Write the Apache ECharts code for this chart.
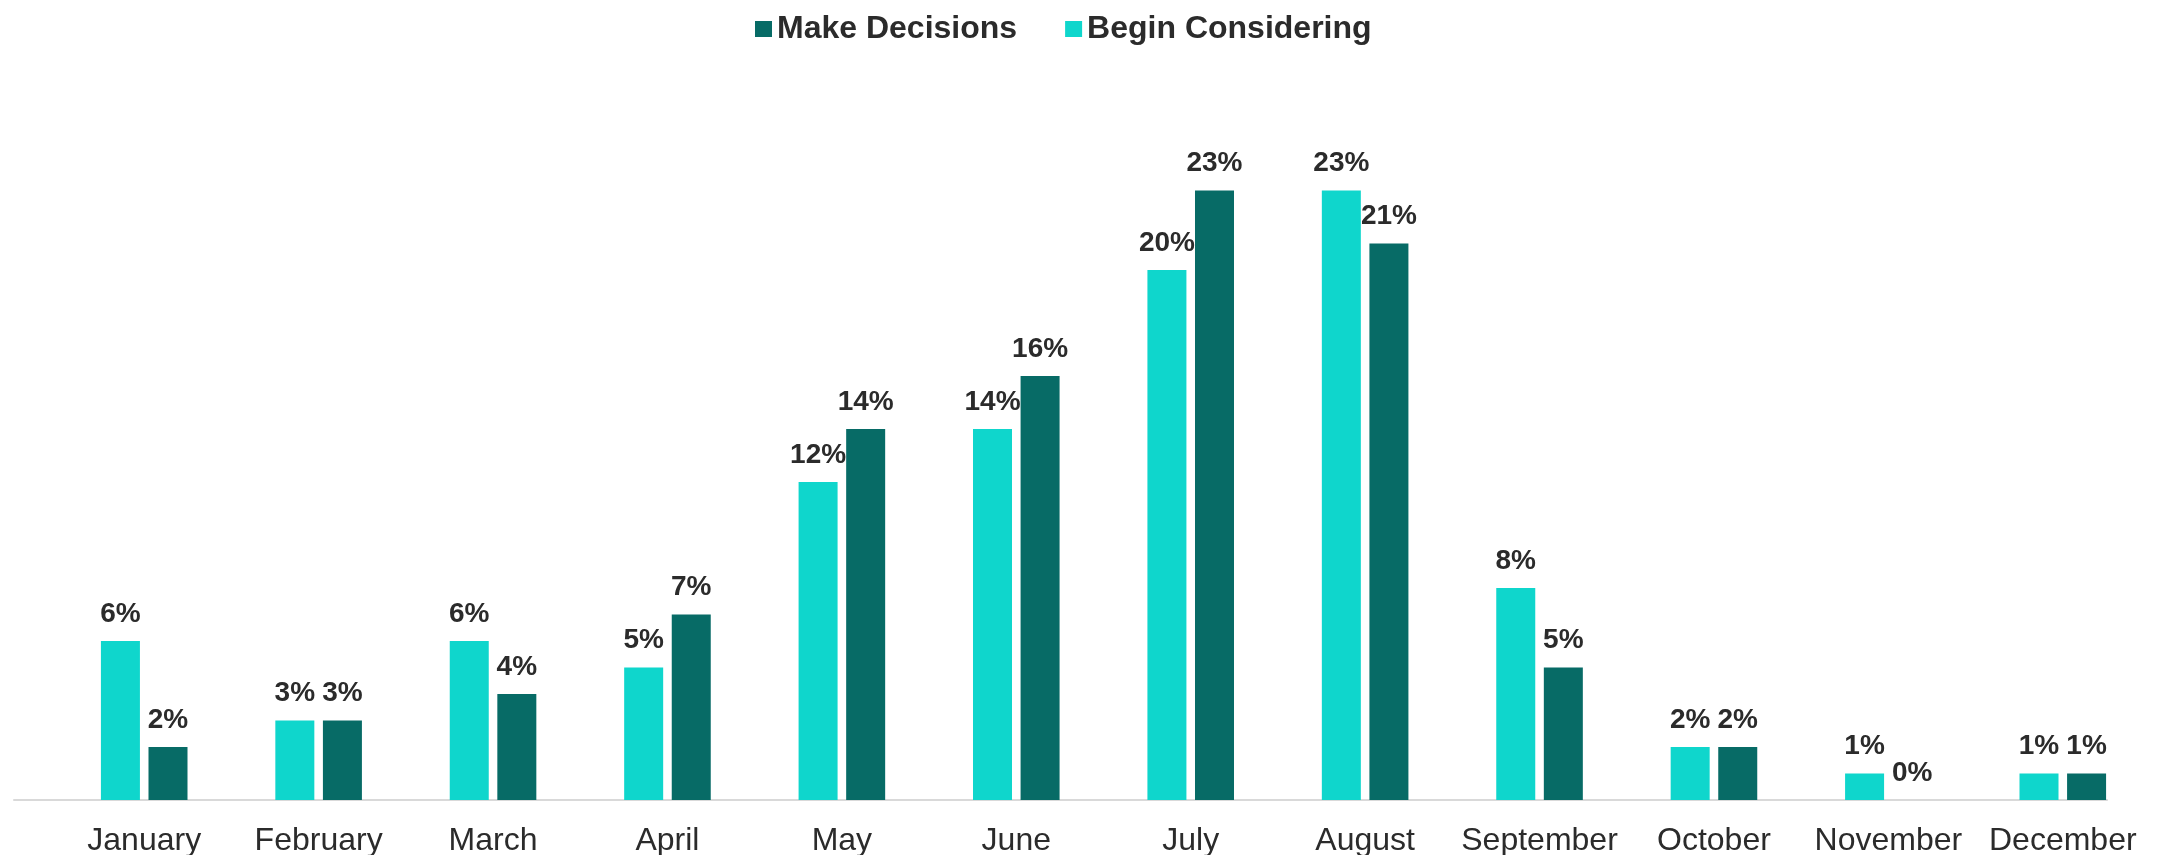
<!DOCTYPE html>
<html>
<head>
<meta charset="utf-8">
<script src="https://cdn.jsdelivr.net/npm/echarts@6/dist/echarts.min.js"></script>
<style>
  html, body { margin: 0; padding: 0; background: #fff; }
  #chart { width: 2160px; height: 855px; }
</style>
</head>
<body>
<div id="chart"></div>
<script>
// data (percent)
const months = ['January', 'February', 'March', 'April', 'May', 'June', 'July',
  'August', 'September', 'October', 'November', 'December']
const beginConsidering = [6, 3, 6, 5, 12, 14, 20, 23, 8, 2, 1, 1]
const makeDecisions = [2, 3, 4, 7, 14, 16, 23, 21, 5, 2, 0, 1]

const CYAN = '#0fd6cc'
const TEAL = '#076b66'
const TEXT = '#2b2b2b'

const chart = echarts.init(document.getElementById('chart'))

const label = {
  show: true,
  position: 'top',
  distance: 13,
  formatter: '{c}%',
  color: TEXT,
  fontFamily: 'Liberation Sans, Arial, sans-serif',
  fontWeight: 'bold',
  fontSize: 28
}

chart.setOption({
  animation: false,
  legend: {
    data: ['Make Decisions', 'Begin Considering'],
    left: 750,
    top: 8,
    itemWidth: 17,
    itemHeight: 16,
    itemGap: 48,
    icon: 'rect',
    textStyle: {
      color: TEXT,
      fontFamily: 'Liberation Sans, Arial, sans-serif',
      fontWeight: 'bold',
      fontSize: 32
    }
  },
  grid: [
    // bars
    { left: 57, right: 10, top: 137.5, bottom: 55, outerBoundsMode: 'none' },
    // baseline only (it sits a bit left of the bar groups in the original)
    { left: 14, right: 53, top: 137.5, bottom: 55, outerBoundsMode: 'none' }
  ],
  xAxis: [
    {
      type: 'category',
      gridIndex: 0,
      data: months,
      axisLine: { show: false },
      axisTick: { show: false },
      axisLabel: {
        margin: 25,
        color: TEXT,
        fontFamily: 'Liberation Sans, Arial, sans-serif',
        fontSize: 32,
        interval: 0
      }
    },
    {
      type: 'category',
      gridIndex: 1,
      data: months,
      axisLine: { show: true, lineStyle: { color: '#d9d9d9', width: 2 } },
      axisTick: { show: false },
      axisLabel: { show: false }
    }
  ],
  yAxis: [
    { type: 'value', gridIndex: 0, min: 0, max: 25, show: false },
    { type: 'value', gridIndex: 1, min: 0, max: 25, show: false }
  ],
  series: [
    {
      name: 'Begin Considering',
      type: 'bar',
      data: beginConsidering,
      barWidth: 39,
      barGap: '22%',
      itemStyle: { color: CYAN },
      label: label
    },
    {
      name: 'Make Decisions',
      type: 'bar',
      data: makeDecisions,
      barWidth: 39,
      barGap: '22%',
      itemStyle: { color: TEAL },
      label: label
    }
  ]
})
</script>
</body>
</html>
